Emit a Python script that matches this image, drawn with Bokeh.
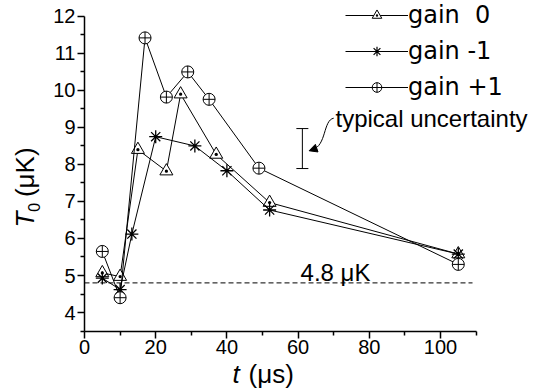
import math
from bokeh.plotting import figure
from bokeh.models import (Range1d, FixedTicker, Legend, LegendItem, Label,
                          Whisker, ColumnDataSource, Arrow, NormalHead)
from bokeh.embed import file_html
from bokeh.resources import INLINE

# ---- data ----
gain0_t = [5, 10, 15, 23, 27, 37, 52, 105]
gain0_T = [5.07, 4.97, 8.40, 7.82, 9.90, 8.27, 6.97, 5.58]
gainm1_t = [5, 10, 13.3, 20, 31, 40, 52, 105]
gainm1_T = [4.93, 4.62, 6.12, 8.75, 8.50, 7.83, 6.77, 5.58]
gainp1_t = [5, 10, 17, 23, 29, 35, 49, 105]
gainp1_T = [5.65, 4.40, 11.42, 9.82, 10.50, 9.76, 7.90, 5.30]
legend_labels = ["gain\u00a0\u00a00", "gain\u00a0-1", "gain\u00a0+1"]
x_major = [0, 20, 40, 60, 80, 100]
x_minor = [10, 30, 50, 70, 90, 110]
y_major = [4, 5, 6, 7, 8, 9, 10, 11, 12]
y_minor = [3.5, 4.5, 5.5, 6.5, 7.5, 8.5, 9.5, 10.5, 11.5]
x_bounds = (0, 110)
y_bounds = (3.5, 12)
floor_T = 4.8
unc_t = [61.2]
unc_lo = [7.89]
unc_hi = [8.97]

FONT = "Liberation Sans"

# the frame covers the whole canvas; axes sit at fixed data locations
p = figure(width=545, height=389, output_backend="svg", toolbar_location=None,
           x_range=Range1d(-23.6, 129.5), y_range=Range1d(1.92, 12.43),
           min_border=0)
p.outline_line_color = None
p.grid.grid_line_color = None
p.background_fill_color = "white"
p.border_fill_color = "white"

for ax in (p.xaxis[0], p.yaxis[0]):
    ax.axis_line_width = 1.5
    ax.axis_line_color = "black"
    ax.major_tick_line_width = 1.5
    ax.minor_tick_line_width = 1.5
    ax.major_tick_line_color = "black"
    ax.minor_tick_line_color = "black"
    ax.major_tick_in = 0
    ax.major_tick_out = 7
    ax.minor_tick_in = 0
    ax.minor_tick_out = 4
    ax.major_label_text_font = FONT
    ax.major_label_text_font_size = "20px"
    ax.major_label_text_color = "black"
    ax.major_label_standoff = 2
p.xaxis.ticker = FixedTicker(ticks=x_major, minor_ticks=x_minor)
p.yaxis.ticker = FixedTicker(ticks=y_major, minor_ticks=y_minor)
p.xaxis.bounds = x_bounds
p.yaxis.bounds = y_bounds
p.xaxis.fixed_location = y_bounds[0]
p.yaxis.fixed_location = x_bounds[0]


def label(**kw):
    kw.setdefault("text_font", FONT)
    kw.setdefault("text_color", "black")
    p.add_layout(Label(**kw))


# dashed reference line
p.segment(x0=[x_bounds[0]], y0=[floor_T], x1=[109], y1=[floor_T], line_color="black",
          line_dash="5 3", line_width=1)
label(x=60.7, y=5.08, text="4.8 \u03bcK", text_font_size="24px",
      text_baseline="alphabetic")

# series
l0 = p.line(gain0_t, gain0_T, line_color="black", line_width=1)
s0 = p.scatter(gain0_t, gain0_T, marker="triangle_dot", size=13, line_color="black",
               fill_color="white", line_width=1)
l1 = p.line(gainm1_t, gainm1_T, line_color="black", line_width=1)
s1 = p.scatter(gainm1_t, gainm1_T, marker="asterisk", size=13, line_color="black",
               line_width=1.3)
l2 = p.line(gainp1_t, gainp1_T, line_color="black", line_width=1)
s2 = p.scatter(gainp1_t, gainp1_T, marker="circle_cross", size=12, line_color="black",
               fill_color="white", line_width=1)

# smaller marker samples used only by the legend (hidden in the plot)
m0 = p.scatter(gain0_t, gain0_T, marker="triangle_dot", size=9, line_color="black",
               fill_color="white", line_width=1, visible=False)
m1 = p.scatter(gainm1_t, gainm1_T, marker="asterisk", size=10, line_color="black",
               line_width=1.2, visible=False)
m2 = p.scatter(gainp1_t, gainp1_T, marker="circle_cross", size=10, line_color="black",
               fill_color="white", line_width=1, visible=False)

legend = Legend(items=[LegendItem(label=legend_labels[0], renderers=[l0, m0]),
                       LegendItem(label=legend_labels[1], renderers=[l1, m1]),
                       LegendItem(label=legend_labels[2], renderers=[l2, m2])],
                location=(345, 288), glyph_width=63, glyph_height=24, spacing=8,
                padding=0, margin=0, label_standoff=0, border_line_color=None,
                background_fill_alpha=0, label_text_font="DejaVu Sans",
                label_text_font_size="24px", label_text_color="black",
                inactive_fill_alpha=0)
p.add_layout(legend, "center")

# typical uncertainty
usrc = ColumnDataSource(dict(x=unc_t, lo=unc_lo, hi=unc_hi))
wh = Whisker(source=usrc, base="x", lower="lo", upper="hi", line_color="black",
             line_width=1)
wh.upper_head.size = 12
wh.lower_head.size = 12
wh.upper_head.line_color = "black"
wh.lower_head.line_color = "black"
p.add_layout(wh)
p.bezier(x0=[70.0], y0=[9.25], x1=[64.0], y1=[8.40], cx0=[67.0], cy0=[9.2],
         cx1=[68.0], cy1=[8.50], line_color="black", line_width=1)
p.add_layout(Arrow(end=NormalHead(size=8, fill_color="black", line_color="black"),
                   x_start=64.6, y_start=8.42, x_end=63.1, y_end=8.37,
                   line_color="black", line_width=1))
label(x=70.5, y=9.24, text="typical uncertainty", text_font_size="24px",
      text_baseline="middle")

# axis titles
label(x=41.6, y=2.35, text="t", text_font_size="26px", text_font_style="italic",
      text_baseline="alphabetic")
label(x=46.1, y=2.35, text="(\u03bcs)", text_font_size="26px",
      text_baseline="alphabetic")
label(x=-16.6, y=6.30, text="T", text_font_size="26px", text_font_style="italic",
      text_baseline="alphabetic", angle=math.pi / 2)
label(x=-14.3, y=6.72, text="0", text_font_size="16px", text_baseline="alphabetic",
      angle=math.pi / 2)
label(x=-16.6, y=7.12, text="(\u03bcK)", text_font_size="26px",
      text_baseline="alphabetic", angle=math.pi / 2)

open("out.html", "w").write(file_html(p, INLINE))
